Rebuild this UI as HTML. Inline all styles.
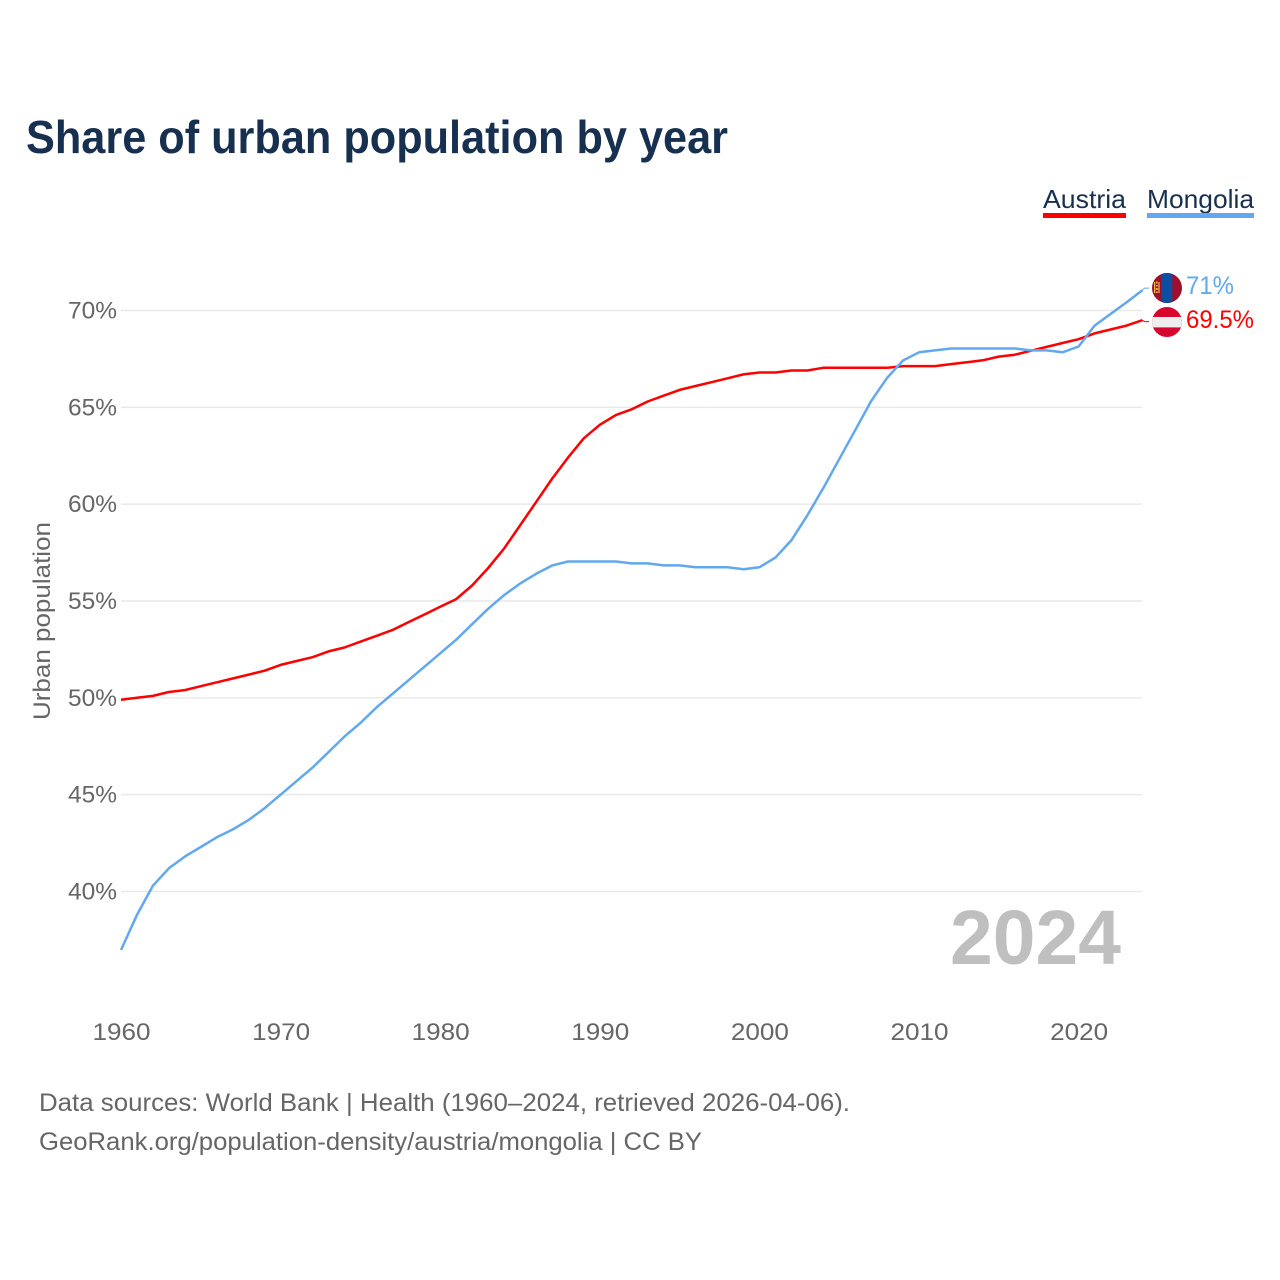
<!DOCTYPE html>
<html>
<head>
<meta charset="utf-8">
<style>
html,body{margin:0;padding:0;background:#fff}
svg{display:block}
text{font-family:"Liberation Sans",sans-serif}
</style>
</head>
<body>
<svg id="chart" width="1280" height="1280" viewBox="0 0 1280 1280" xmlns="http://www.w3.org/2000/svg">
<text x="26" y="153" font-size="46" font-weight="700" fill="#18304f" textLength="702" lengthAdjust="spacingAndGlyphs">Share of urban population by year</text>
<g>
<text x="1043" y="208" font-size="26" fill="#18304f" textLength="83" lengthAdjust="spacingAndGlyphs">Austria</text>
<rect x="1043" y="213" width="83" height="5" fill="#ff0000"/>
</g>
<g>
<text x="1147" y="208" font-size="26" fill="#18304f" textLength="107" lengthAdjust="spacingAndGlyphs">Mongolia</text>
<rect x="1147" y="213" width="107" height="5" fill="#62a8ee"/>
</g>
<text transform="translate(50,720) rotate(-90)" font-size="24" fill="#666666" textLength="198" lengthAdjust="spacingAndGlyphs">Urban population</text>
<g id="grid"></g>
<g id="yticks"></g>
<g id="xticks"></g>
<text x="1121" y="964" text-anchor="end" font-size="77" font-weight="700" fill="#bfbfbf" textLength="171" lengthAdjust="spacingAndGlyphs">2024</text>
<g id="series"></g>
<defs>
<clipPath id="clip-mn"><circle cx="1167" cy="288" r="15"/></clipPath>
<clipPath id="clip-at"><circle cx="1167" cy="322" r="15"/></clipPath>
</defs>
<g clip-path="url(#clip-mn)">
<rect x="1152" y="273" width="30" height="30" fill="#9f0f2c"/>
<rect x="1161.3" y="273" width="11" height="30" fill="#0b4ea2"/>
<rect x="1154" y="282" width="1.2" height="11" fill="#eeb94a"/>
<rect x="1158.4" y="282" width="1.2" height="11" fill="#eeb94a"/>
<rect x="1156" y="281.5" width="1.6" height="2" fill="#eeb94a"/>
<rect x="1155.8" y="285" width="2" height="1.4" fill="#eeb94a"/>
<rect x="1155.8" y="288" width="2" height="2" fill="#eeb94a"/>
<rect x="1155.8" y="291.5" width="2" height="1.4" fill="#eeb94a"/>
</g>
<g clip-path="url(#clip-at)">
<rect x="1152" y="307" width="30" height="30" fill="#d8062f"/>
<rect x="1152" y="317" width="30" height="10.4" fill="#eeeeee"/>
</g>
<text id="label-mn" x="1186" y="294" font-size="25" fill="#62a8ee" textLength="48" lengthAdjust="spacingAndGlyphs">71%</text>
<text id="label-at" x="1186" y="328" font-size="25" fill="#ff0000" textLength="68" lengthAdjust="spacingAndGlyphs">69.5%</text>
<text x="39" y="1111" font-size="25" fill="#666666" textLength="811" lengthAdjust="spacingAndGlyphs">Data sources: World Bank | Health (1960–2024, retrieved 2026-04-06).</text>
<text x="39" y="1150" font-size="25" fill="#666666" textLength="663" lengthAdjust="spacingAndGlyphs">GeoRank.org/population-density/austria/mongolia | CC BY</text>
</svg>
<script>
const startYear = 1960;
const austria = [49.9,50.0,50.1,50.3,50.4,50.6,50.8,51.0,51.2,51.4,51.7,51.9,52.1,52.4,52.6,52.9,53.2,53.5,53.9,54.3,54.7,55.1,55.8,56.7,57.7,58.9,60.1,61.3,62.4,63.4,64.1,64.6,64.9,65.3,65.6,65.9,66.1,66.3,66.5,66.7,66.8,66.8,66.9,66.9,67.04,67.04,67.04,67.04,67.04,67.13,67.13,67.13,67.23,67.33,67.43,67.62,67.72,67.92,68.12,68.32,68.52,68.82,69.02,69.22,69.5];
const mongolia = [36.98,38.8,40.3,41.2,41.8,42.3,42.8,43.2,43.7,44.3,45.0,45.7,46.4,47.2,48.0,48.7,49.5,50.2,50.9,51.6,52.3,53.0,53.8,54.6,55.3,55.9,56.4,56.83,57.04,57.04,57.04,57.04,56.94,56.94,56.84,56.84,56.74,56.74,56.74,56.64,56.74,57.24,58.13,59.42,60.82,62.32,63.82,65.32,66.52,67.42,67.84,67.94,68.04,68.04,68.04,68.04,68.04,67.94,67.94,67.84,68.14,69.22,69.82,70.42,71.05];
const yTickValues = [40,45,50,55,60,65,70];
const xTickValues = [1960,1970,1980,1990,2000,2010,2020];

const NS = 'http://www.w3.org/2000/svg';
const xScale = year => 121 + (year - 1960) * 15.96;
const yScale = value => 310.5 + (70 - value) * 19.367;

const grid = document.getElementById('grid');
const yticks = document.getElementById('yticks');
const xticks = document.getElementById('xticks');
const series = document.getElementById('series');

yTickValues.forEach(v => {
  const line = document.createElementNS(NS, 'line');
  
  
  line.setAttribute('x1', 121);
  line.setAttribute('x2', 1142);
  line.setAttribute('y1', yScale(v));
  line.setAttribute('y2', yScale(v));
  line.setAttribute('stroke', '#e9e9e9');
  line.setAttribute('stroke-width', 1.5);
  grid.appendChild(line);
  const t = document.createElementNS(NS, 'text');
  
  
  t.setAttribute('x', 117);
  t.setAttribute('y', yScale(v) + 8);
  t.setAttribute('text-anchor', 'end');
  t.setAttribute('font-size', 24);
  t.setAttribute('fill', '#666666');
  t.setAttribute('textLength', 49);
  t.setAttribute('lengthAdjust', 'spacingAndGlyphs');
  t.textContent = v + '%';
  yticks.appendChild(t);
});

xTickValues.forEach(y => {
  const t = document.createElementNS(NS, 'text');
  
  
  t.setAttribute('x', xScale(y) + 0.5);
  t.setAttribute('y', 1040);
  t.setAttribute('text-anchor', 'middle');
  t.setAttribute('font-size', 24);
  t.setAttribute('fill', '#666666');
  t.setAttribute('textLength', 58);
  t.setAttribute('lengthAdjust', 'spacingAndGlyphs');
  t.textContent = y;
  xticks.appendChild(t);
});

function drawLine(values, color, name, elbowDy) {
  const pts = values.map((v, i) => xScale(startYear + i).toFixed(1) + ',' + yScale(v).toFixed(1));
  const last = values.length - 1;
  const endX = xScale(startYear + last);
  const endY = yScale(values[last]);
  const p = document.createElementNS(NS, 'polyline');
  
  
  p.setAttribute('points', pts.join(' '));
  p.setAttribute('fill', 'none');
  p.setAttribute('stroke', color);
  p.setAttribute('stroke-width', 2.5);
  p.setAttribute('stroke-linejoin', 'round');
  series.appendChild(p);
  const c = document.createElementNS(NS, 'polyline');
  
  
  c.setAttribute('points', endX + ',' + endY + ' ' + (endX + 2) + ',' + (endY + elbowDy) + ' 1149,' + (endY + elbowDy));
  c.setAttribute('fill', 'none');
  c.setAttribute('stroke', color);
  c.setAttribute('stroke-width', 1);
  series.appendChild(c);
}
drawLine(austria, '#ff0000', 'line-austria', 1.5);
drawLine(mongolia, '#62a8ee', 'line-mongolia', -2);
</script>
</body>
</html>
